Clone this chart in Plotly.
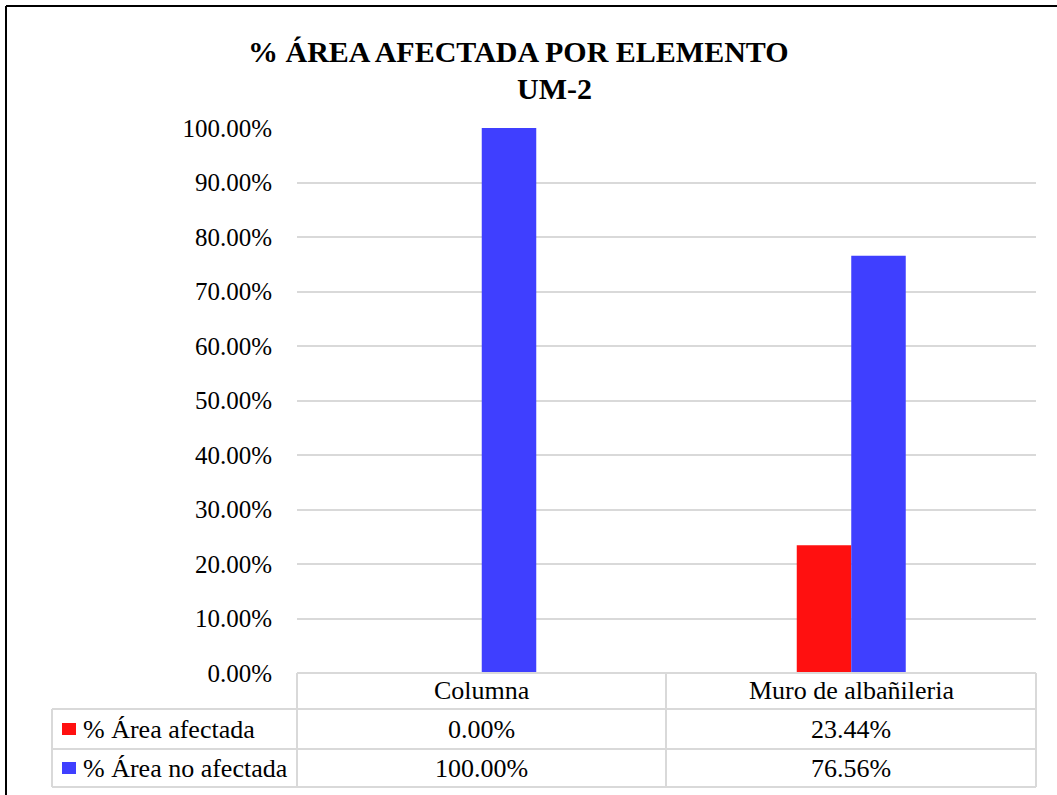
import plotly.graph_objects as go

# Data
categories = ["Columna", "Muro de albañileria"]
series_names = ["% Área afectada", "% Área no afectada"]
afectada = [0.0, 0.2344]
no_afectada = [1.0, 0.7656]
colors = ["#FF1010", "#3F3FFF"]
y_ticks = [0, 0.1, 0.2, 0.3, 0.4, 0.5, 0.6, 0.7, 0.8, 0.9, 1.0]

W, H = 1057, 795
PL, PR, PT, PB = 297, 1036, 128, 673  # plot area in pixels
FONT = "Liberation Serif"
GRID = "#D9D9D9"


def fx(p):
    return (p - PL) / (PR - PL)


def fy(p):
    return (PB - p) / (PB - PT)


fig = go.Figure()
for name, vals, col in zip(series_names, [afectada, no_afectada], colors):
    fig.add_trace(go.Bar(
        x=categories, y=vals, name=name,
        marker=dict(color=col, line=dict(width=0)),
    ))

shapes = []


def line(x0, y0, x1, y1, color=GRID, width=2):
    shapes.append(dict(type="line", xref="paper", yref="paper",
                       x0=fx(x0), y0=fy(y0), x1=fx(x1), y1=fy(y1),
                       line=dict(color=color, width=width)))


# data table grid
line(PL, 673, PR, 673)
for yy in (709, 749, 787):
    line(52, yy, PR, yy)
line(52, 709, 52, 787)
for xx in (PL, 666, PR):
    line(xx, 673, xx, 787)

# chart frame
line(6, 6, W + 5, 6, color="#000000", width=2)
line(6, 6, 6, H + 5, color="#000000", width=2)

# legend keys in the table
row_centers = [729, 768]
for yc, col in zip(row_centers, colors):
    shapes.append(dict(type="rect", xref="paper", yref="paper",
                       x0=fx(62), x1=fx(76), y0=fy(yc - 6), y1=fy(yc + 6),
                       fillcolor=col, line=dict(width=0)))

annotations = []
tfont = dict(family=FONT, size=26, color="#000000")

# category row
for c in categories:
    annotations.append(dict(x=c, xref="x", y=fy(691), yref="paper",
                            text=c, showarrow=False, font=tfont,
                            xanchor="center", yanchor="middle"))

# value rows
for yc, name, vals in zip(row_centers, series_names, [afectada, no_afectada]):
    annotations.append(dict(x=fx(81), xref="paper", y=fy(yc), yref="paper",
                            text=name, showarrow=False, font=tfont,
                            xanchor="left", yanchor="middle"))
    for c, v in zip(categories, vals):
        annotations.append(dict(x=c, xref="x", y=fy(yc), yref="paper",
                                text=f"{v * 100:.2f}%", showarrow=False,
                                font=tfont, xanchor="center", yanchor="middle"))

# title
title_font = dict(family=FONT, size=30, color="#000000")
annotations.append(dict(x=fx(518), xref="paper", y=fy(51), yref="paper",
                        text="<b>% ÁREA AFECTADA POR ELEMENTO</b>", showarrow=False,
                        font=title_font, xanchor="center", yanchor="middle"))
annotations.append(dict(x=fx(554), xref="paper", y=fy(88), yref="paper",
                        text="<b>UM-2</b>", showarrow=False,
                        font=title_font, xanchor="center", yanchor="middle"))

fig.update_layout(
    width=W, height=H,
    margin=dict(l=PL, r=W - PR, t=PT, b=H - PB, pad=0),
    paper_bgcolor="#FFFFFF", plot_bgcolor="#FFFFFF",
    barmode="group", bargap=0.705, bargroupgap=0,
    showlegend=False,
    shapes=shapes, annotations=annotations,
    font=dict(family=FONT, color="#000000"),
    xaxis=dict(showticklabels=False, showgrid=False, showline=False,
               zeroline=False, ticks=""),
    yaxis=dict(range=[0, 1], tickvals=y_ticks, tickformat=".2%",
               showgrid=True, gridcolor=GRID, gridwidth=2,
               zeroline=False, showline=False, ticks="",
               ticklabelstandoff=24,
               tickfont=dict(family=FONT, size=25, color="#000000")),
)

fig.write_html("out.html")
